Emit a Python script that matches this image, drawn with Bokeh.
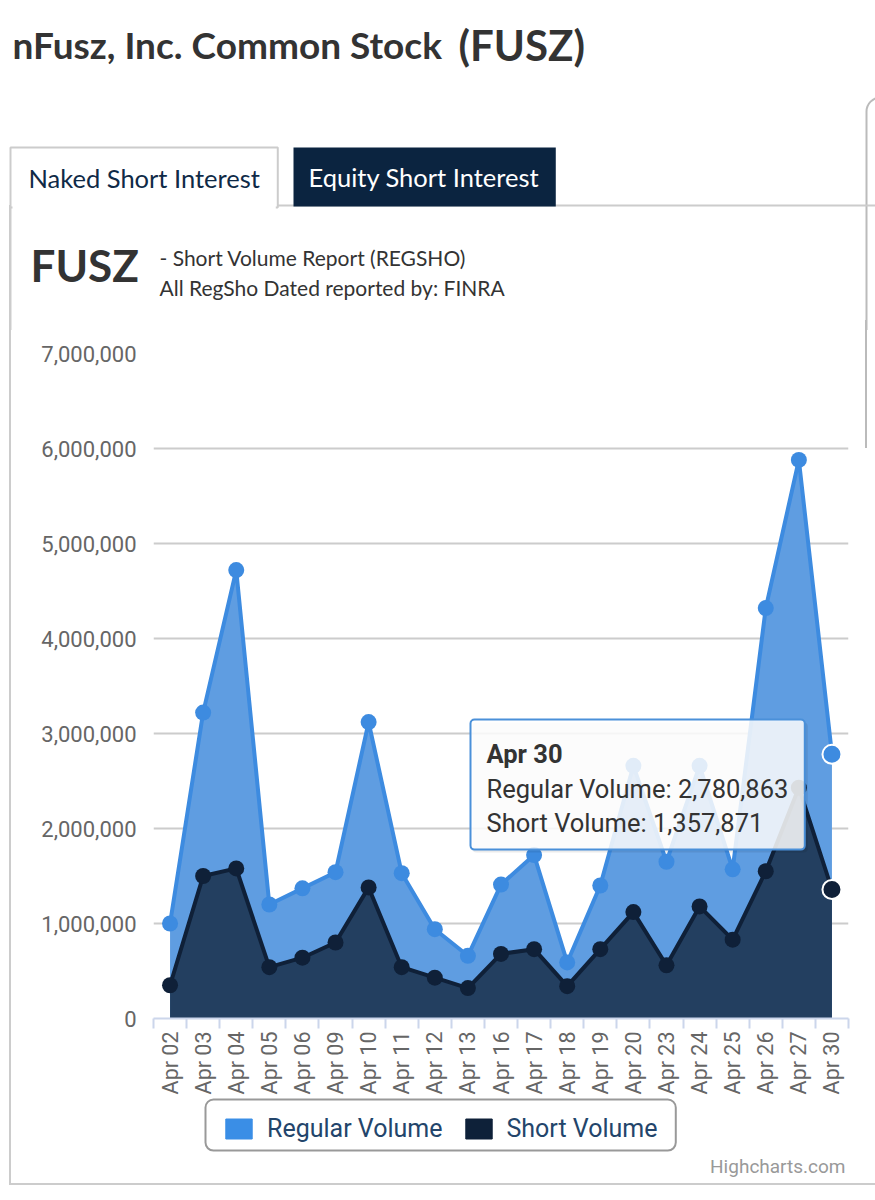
import math
from bokeh.plotting import figure
from bokeh.layouts import column, row
from bokeh.models import (Label, FixedTicker, NumeralTickFormatter, Legend,
                          LegendItem, Range1d)
from bokeh.embed import file_html
from bokeh.resources import INLINE

# ---------------- data ----------------
dates = ["Apr 02", "Apr 03", "Apr 04", "Apr 05", "Apr 06", "Apr 09", "Apr 10",
         "Apr 11", "Apr 12", "Apr 13", "Apr 16", "Apr 17", "Apr 18", "Apr 19",
         "Apr 20", "Apr 23", "Apr 24", "Apr 25", "Apr 26", "Apr 27", "Apr 30"]
regular_volume = [1000000, 3220000, 4720000, 1200000, 1370000, 1540000, 3120000,
                  1530000, 940000, 660000, 1410000, 1720000, 590000, 1400000,
                  2660000, 1650000, 2660000, 1570000, 4320000, 5880000, 2780863]
short_volume = [350000, 1500000, 1580000, 540000, 640000, 800000, 1380000,
                540000, 430000, 320000, 680000, 730000, 340000, 730000,
                1120000, 560000, 1180000, 830000, 1550000, 2430000, 1357871]
y_ticks = [0, 1000000, 2000000, 3000000, 4000000, 5000000, 6000000, 7000000]
series_names = ["Regular Volume", "Short Volume"]

page_title = "nFusz, Inc. Common Stock"
page_symbol = "(FUSZ)"
tab_labels = ["Naked Short Interest", "Equity Short Interest"]
chart_symbol = "FUSZ"
chart_sub1 = "- Short Volume Report  (REGSHO)"
chart_sub2 = "All RegSho Dated reported by: FINRA"
credits = "Highcharts.com"

# ---------------- layout constants (page px) ----------------
W, H = 875, 1200
HEAD_B = 330          # header bottom
MID_B = 1097          # chart block bottom
FL, FR, FT, FB = 153, 848, 353, 1018   # chart frame

REG_LINE = "#3d8be0"
REG_FILL = "#5f9de1"
SHORT_LINE = "#0f2038"
SHORT_FILL = "#233f60"
NAVY = "#0b2440"
BORDER = "#cccccc"


def blank(width, height, x0, x1, y_top, y_bot):
    f = figure(width=width, height=height, output_backend="svg",
               toolbar_location=None, x_range=Range1d(x0, x1),
               y_range=Range1d(y_bot, y_top), min_border=0)
    f.min_border_left = f.min_border_right = 0
    f.min_border_top = f.min_border_bottom = 0
    f.axis.visible = False
    f.grid.visible = False
    f.outline_line_color = None
    f.background_fill_color = None
    f.border_fill_color = None
    return f


def ident(v):
    return v


def box(fig, px0, py0, px1, py1, fill=None, fill_alpha=1.0, line=None, lw=2,
        radius=0, units="data", cx=ident, cy=ident):
    w = int(px1 - px0)
    h = int(py1 - py0)
    lab = Label(x=cx(px0), y=cy(py0), x_units=units, y_units=units,
                text=" ", text_font_size="1px", anchor="top_left",
                padding=dict(left=w // 2, right=w - w // 2,
                             top=h // 2, bottom=h - h // 2 - 1),
                background_fill_color=fill, background_fill_alpha=fill_alpha,
                border_line_color=line, border_line_width=lw,
                border_radius=radius)
    fig.add_layout(lab)
    return lab


def txt(fig, s, px, py, size, color="#333333", font="Lato", style="normal",
        align="left", baseline="middle", units="data", cx=ident, cy=ident):
    lab = Label(x=cx(px), y=cy(py), x_units=units, y_units=units,
                text=s, text_font=font, text_font_size=size,
                text_font_style=style, text_color=color,
                text_align=align, text_baseline=baseline)
    fig.add_layout(lab)
    return lab


# ================= header =================
hd = blank(W, HEAD_B, 0, W, 0, HEAD_B)
txt(hd, page_title, 12, 44, "37px", "#333333", "Lato", "bold")
txt(hd, page_symbol, 458, 44, "42px", "#333333", "Lato", "bold")
box(hd, 866, 97, 910, 520, line="#bbbbbb", lw=2, radius=14)
box(hd, 10, 205, 910, 520, line=BORDER, lw=2)
box(hd, 10, 147, 277, 207, fill="white", line=BORDER, lw=2)
box(hd, 12, 200, 275, 214, fill="white", line=None)
box(hd, 293, 147, 555, 206, fill=NAVY, line=None)
txt(hd, tab_labels[0], 28, 177, "25.5px", "#0f2a47", "Lato")
txt(hd, tab_labels[1], 308, 176, "25.5px", "white", "Lato")
txt(hd, chart_symbol, 30, 264, "44px", "#333333", "Lato", "bold")
txt(hd, chart_sub1, 159, 257, "21px", "#333333", "Lato")
txt(hd, chart_sub2, 159, 287, "21px", "#333333", "Lato")

# ================= chart =================
x = list(range(len(dates)))
p = figure(width=W, height=MID_B - HEAD_B, output_backend="svg",
           toolbar_location=None,
           x_range=Range1d(-0.5, len(dates) - 0.5),
           y_range=Range1d(y_ticks[0], y_ticks[-1]),
           min_border_left=FL, min_border_right=W - FR,
           min_border_top=FT - HEAD_B, min_border_bottom=MID_B - FB)
p.outline_line_color = None
p.background_fill_color = None
p.border_fill_color = None

p.xaxis.ticker = FixedTicker(ticks=x,
                             minor_ticks=[i - 0.5 for i in range(len(dates) + 1)])
p.xaxis.major_label_overrides = {i: d for i, d in enumerate(dates)}
p.xaxis.major_label_orientation = math.pi / 2
p.xaxis.major_tick_out = 0
p.xaxis.major_tick_in = 0
p.xaxis.minor_tick_out = 10
p.xaxis.minor_tick_in = 0
p.xaxis.minor_tick_line_color = "#ccd6eb"
p.xaxis.minor_tick_line_width = 2
p.xaxis.axis_line_color = "#ccd6eb"
p.xaxis.axis_line_width = 2
p.xaxis.major_label_text_font = "Roboto"
p.xaxis.major_label_text_font_size = "21.5px"
p.xaxis.major_label_text_color = "#666666"
p.xaxis.major_label_standoff = 3
p.xgrid.visible = False

p.yaxis.ticker = FixedTicker(ticks=y_ticks)
p.yaxis.formatter = NumeralTickFormatter(format="0,0")
p.yaxis.axis_line_color = None
p.yaxis.major_tick_line_color = None
p.yaxis.minor_tick_line_color = None
p.yaxis.major_label_text_font = "Roboto"
p.yaxis.major_label_text_font_size = "22px"
p.yaxis.major_label_text_color = "#666666"
p.yaxis.major_label_standoff = 11
p.ygrid.ticker = FixedTicker(ticks=y_ticks)
p.ygrid.grid_line_color = "#cccccc"
p.ygrid.grid_line_width = 2

p.varea(x=x, y1=0, y2=regular_volume, fill_color=REG_FILL, fill_alpha=1)
p.line(x, regular_volume, line_color=REG_LINE, line_width=4)
p.scatter(x, regular_volume, size=16, fill_color=REG_LINE, line_color=None)
p.varea(x=x, y1=0, y2=short_volume, fill_color=SHORT_FILL, fill_alpha=1)
p.line(x, short_volume, line_color=SHORT_LINE, line_width=4)
p.scatter(x, short_volume, size=16, fill_color=SHORT_LINE, line_color=None)
p.scatter(x[-1:], regular_volume[-1:], size=19, fill_color=REG_LINE,
          line_color="white", line_width=2)
p.scatter(x[-1:], short_volume[-1:], size=19, fill_color=SHORT_LINE,
          line_color="white", line_width=2)


# tooltip (screen units relative to the frame)
def fx(px):
    return px - FL


def fy(py):
    return FB - py


scr = dict(units="screen", cx=fx, cy=fy)
box(p, 472, 722, 807, 852, fill="black", fill_alpha=0.08, line=None, radius=4, **scr)
box(p, 470, 719, 804, 849, fill="white", fill_alpha=0.85, line="#4a90d9", lw=2,
    radius=4, **scr)
txt(p, dates[-1], 486, 753, "25.5px", "#333333", "Roboto", "bold", **scr)
txt(p, f"{series_names[0]}: {regular_volume[-1]:,}", 486, 788, "25.5px",
    "#333333", "Roboto", **scr)
txt(p, f"{series_names[1]}: {short_volume[-1]:,}", 486, 822, "25.5px",
    "#333333", "Roboto", **scr)

# ================= footer =================
ft = blank(W, H - MID_B, 0, W, MID_B, H)
# legend frame (rounded)
box(ft, 205, 1099, 675, 1150, fill="white", line="#999999", lw=2, radius=8)
# zero-size swatch carriers (off-view) for the legend glyphs
sw_reg = ft.quad(left=x[:1], right=x[:1], top=y_ticks[:1], bottom=y_ticks[:1],
                 fill_color="#3a8ee6", line_color="#3a8ee6")
sw_short = ft.quad(left=x[:1], right=x[:1], top=y_ticks[:1], bottom=y_ticks[:1],
                   fill_color="#0e2139", line_color="#0e2139")
legend = Legend(items=[LegendItem(label=series_names[0], renderers=[sw_reg]),
                       LegendItem(label=series_names[1], renderers=[sw_short])],
                orientation="horizontal",
                location=(222, H - 1143),
                border_line_color=None,
                background_fill_alpha=0,
                padding=8, spacing=19, margin=0,
                glyph_width=33, glyph_height=25, label_standoff=12,
                label_height=25,
                label_text_font="Roboto", label_text_font_size="25px",
                label_text_color="#23456b")
ft.add_layout(legend, "center")
txt(ft, credits, 845, 1166, "19px", "#999999", "Roboto", align="right")

# panel frame lines drawn as the page background behind transparent plots
bg = ", ".join([
    "linear-gradient(#cccccc,#cccccc) 9px 205px / 2px 980px no-repeat",
    "linear-gradient(#cccccc,#cccccc) 9px 1183px / 866px 2px no-repeat",
    "linear-gradient(#bbbbbb,#bbbbbb) 865px 320px / 2px 128px no-repeat",
    "white",
])
layout = column(hd, row(p), ft, styles={"background": bg})
open("out.html", "w").write(file_html(layout, INLINE))
